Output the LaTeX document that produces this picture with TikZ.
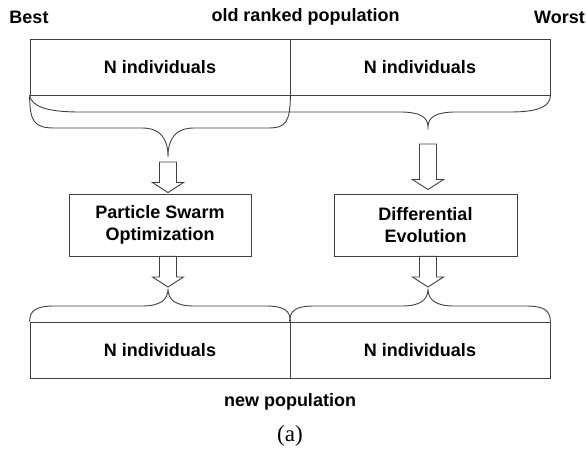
\documentclass[tikz,border=0pt]{standalone}
\usepackage{fontspec}
\setmainfont{Liberation Sans}
\newfontfamily\capfont{Liberation Serif}
\usetikzlibrary{calc}

\newcommand\lab{\fontsize{18}{22}\selectfont\bfseries}
\newcommand\blockarrow[2]{%
  \draw[blockarr] let \p1=(#1), \p2=(#2) in
    (\x1-8.5pt,\y1) -- (\x1-8.5pt,\y2+10pt) -- (\x1-15.5pt,\y2+10pt) --
    (\x1,\y2) -- (\x1+15.5pt,\y2+10pt) -- (\x1+8.5pt,\y2+10pt) --
    (\x1+8.5pt,\y1) -- cycle;}

\tikzset{
  line/.style={draw=black!75, line width=0.9pt},
  cell/.style={line, minimum width=260pt, minimum height=56pt, inner sep=0pt, font=\lab},
  algo/.style={line, minimum width=182pt, minimum height=62pt, inner sep=0pt, align=center, font=\lab},
  blockarr/.style={line, fill=white},
  brace/.style={line}
}

\begin{document}
\begin{tikzpicture}[x=1pt,y=-1pt]
\useasboundingbox (0,0) rectangle (586,454);

% labels
\node[font=\lab] (best) at (29,17) {Best};
\node[font=\lab] (title) at (305.5,17) {old ranked population};
\node[font=\lab, anchor=west, inner sep=0pt] (worst) at (534,17) {Worst};

% old ranked population
\node[cell] (old1) at (160,67) {N individuals};
\node[cell] (old2) at (420,67) {N individuals};

% braces below the old population
\draw[brace] (old1.south west) .. controls (30,122) and (34,128) .. (55,128) -- (142,128)
  .. controls (160,128) and (168,138) .. (168,157) coordinate (tipL)
  .. controls (168,138) and (176,128) .. (194,128) -- (268,128)
  .. controls (286,128) and (290,122) .. (old1.south east);
\draw[brace] (old1.south west) .. controls (32,107) and (48,112) .. (80,112) -- (400,112)
  .. controls (420,112) and (428,117) .. (428,127) coordinate (tipR)
  .. controls (428,117) and (436,112) .. (456,112) -- (510,112)
  .. controls (540,112) and (550,106) .. (old2.south east);

% algorithms
\node[algo] (pso) at (160,225) {Particle Swarm\\Optimization};
\node[algo, minimum width=183pt] (de) at (425.5,225) {Differential\\Evolution};

% new population
\node[cell] (new1) at (160,350) {N individuals};
\node[cell] (new2) at (420,350) {N individuals};

% braces above the new population
\draw[brace] (new1.north west) .. controls (30,310) and (36,306) .. (55,306) -- (142,306)
  .. controls (160,306) and (168,300) .. (168,289) coordinate (btipL)
  .. controls (168,300) and (176,306) .. (194,306) -- (265,306)
  .. controls (284,306) and (290,310) .. (new1.north east);
\draw[brace] (new2.north west) .. controls (290,310) and (296,306) .. (315,306) -- (402,306)
  .. controls (420,306) and (428,300) .. (428,289) coordinate (btipR)
  .. controls (428,300) and (436,306) .. (454,306) -- (525,306)
  .. controls (544,306) and (550,310) .. (new2.north east);

% block arrows
\blockarrow{[yshift=-5pt]tipL}{[yshift=1pt]tipL |- pso.north}
\blockarrow{[yshift=-17pt]tipR}{[yshift=4pt]tipR |- de.north}
\blockarrow{btipL |- pso.south}{[yshift=2pt]btipL}
\blockarrow{btipR |- de.south}{[yshift=2pt]btipR}

% captions
\node[font=\lab] (newlbl) at (290,402) {new population};
\node[font=\capfont\fontsize{23}{26}\selectfont] (caption) at (290,436) {(a)};
\end{tikzpicture}
\end{document}
